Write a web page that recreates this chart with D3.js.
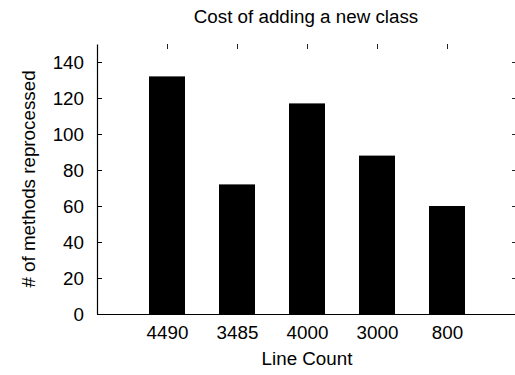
<!DOCTYPE html>
<html>
<head>
<meta charset="utf-8">
<script src="https://cdn.jsdelivr.net/npm/d3@7"></script>
<style>
  html, body { margin: 0; padding: 0; background: #fff; }
  svg { display: block; }
  text { font-family: "Liberation Sans", Arial, Helvetica, sans-serif; fill: #000; }
</style>
</head>
<body>
<svg id="chart" width="515" height="375"></svg>
<script>
// Line counts of the classes (x categories) and methods reprocessed per class
const categories = ["4490", "3485", "4000", "3000", "800"];
const methodsReprocessed = [132, 72, 117, 88, 60];
const yTicks = [0, 20, 40, 60, 80, 100, 120, 140];

const svg = d3.select("#chart");
const plotLeft = 97, plotRight = 517, plotTop = 44, plotBottom = 314;
const fontSize = 18.8;

const x = d3.scalePoint().domain(categories).range([plotLeft, plotRight]).padding(1);
const y = d3.scaleLinear().domain([0, 150]).range([plotBottom, plotTop]);
const barWidth = 36;

// bars
svg.append("g").selectAll("rect")
  .data(categories)
  .join("rect")
  .attr("x", d => x(d) - barWidth / 2)
  .attr("width", barWidth)
  .attr("y", (d, i) => y(methodsReprocessed[i]))
  .attr("height", (d, i) => y(0) - y(methodsReprocessed[i]))
  .attr("fill", "#000");

// left axis with inward ticks
const yAxis = d3.axisLeft(y).tickValues(yTicks).tickSize(-5).tickPadding(13).tickSizeOuter(0);
const gy = svg.append("g").attr("transform", `translate(${plotLeft},0)`).call(yAxis);
gy.select(".domain").attr("stroke", "#000").attr("stroke-width", 1.2);
gy.selectAll(".tick line").attr("stroke", "#000");
gy.selectAll(".tick text").attr("font-size", fontSize).attr("font-family", "Liberation Sans, Arial, sans-serif");

// right mirror ticks
const yAxisR = d3.axisRight(y).tickValues(yTicks).tickSize(-5).tickFormat("").tickSizeOuter(0);
const gyr = svg.append("g").attr("transform", `translate(${plotRight},0)`).call(yAxisR);
gyr.select(".domain").remove();
gyr.selectAll(".tick line").attr("stroke", "#222");

// bottom axis
const xAxis = d3.axisBottom(x).tickSize(-5).tickPadding(12).tickSizeOuter(0);
const gx = svg.append("g").attr("transform", `translate(0,${plotBottom})`).call(xAxis);
gx.select(".domain").attr("stroke", "#000").attr("stroke-width", 1.2);
gx.selectAll(".tick line").attr("stroke", "#000");
gx.selectAll(".tick text").attr("font-size", fontSize).attr("font-family", "Liberation Sans, Arial, sans-serif");

// top mirror ticks
const xAxisT = d3.axisTop(x).tickSize(-5).tickFormat("").tickSizeOuter(0);
const gxt = svg.append("g").attr("transform", `translate(0,${plotTop})`).call(xAxisT);
gxt.select(".domain").remove();
gxt.selectAll(".tick line").attr("stroke", "#222");

// title and axis labels
svg.append("text")
  .attr("x", (plotLeft + plotRight) / 2 - 1).attr("y", 22.5)
  .attr("text-anchor", "middle").attr("font-size", fontSize)
  .text("Cost of adding a new class");

svg.append("text")
  .attr("x", (plotLeft + plotRight) / 2).attr("y", 365)
  .attr("text-anchor", "middle").attr("font-size", fontSize)
  .text("Line Count");

svg.append("text")
  .attr("transform", `translate(35,${(plotTop + plotBottom) / 2}) rotate(-90)`)
  .attr("text-anchor", "middle").attr("font-size", fontSize)
  .text("# of methods reprocessed");
</script>
</body>
</html>
